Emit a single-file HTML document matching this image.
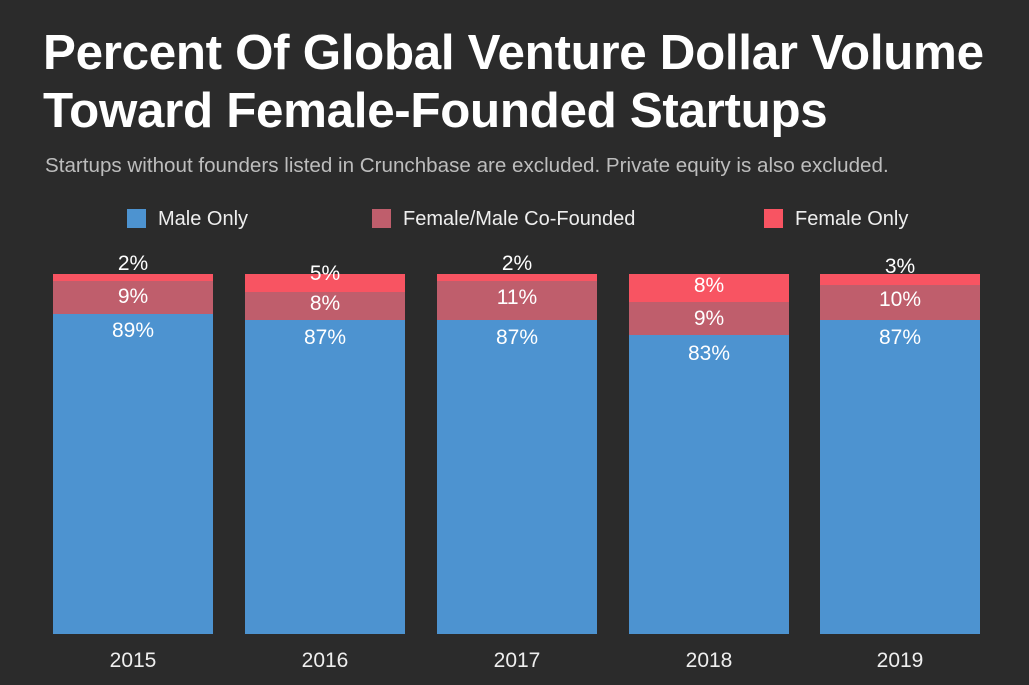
<!DOCTYPE html>
<html><head><style>
body{margin:0;width:1029px;height:685px;background:#2b2b2b;overflow:hidden;font-family:"Liberation Sans",sans-serif;position:relative}
.t{position:absolute;left:43px;top:24px;color:#fff;font-size:49.3px;font-weight:bold;line-height:58px;letter-spacing:-0.3px;white-space:nowrap}
.s{position:absolute;left:45px;top:154px;color:#bdbdbd;font-size:20.6px;white-space:nowrap}
.lg{position:absolute;top:208px;color:#eee;font-size:20px;line-height:22px;white-space:nowrap}
.lg i{display:inline-block;width:19px;height:19px;vertical-align:-3px;margin-right:12px}
.b{position:absolute;width:160px}
.l{position:absolute;width:160px;text-align:center;color:#fff;font-size:21px;line-height:20px}
.x{position:absolute;width:160px;text-align:center;color:#eee;font-size:21px;top:649px}
</style></head><body>
<div class="t">Percent Of Global Venture Dollar Volume<br>Toward Female-Founded Startups</div>
<div class="s">Startups without founders listed in Crunchbase are excluded. Private equity is also excluded.</div>
<div class="lg" style="left:127px"><i style="background:#4d93d0"></i>Male Only</div>
<div class="lg" style="left:372px"><i style="background:#bf5e6c"></i>Female/Male Co-Founded</div>
<div class="lg" style="left:764px"><i style="background:#f85462"></i>Female Only</div>

<div class="b" style="left:53px;top:274px;height:7px;background:#f85462"></div>
<div class="b" style="left:53px;top:281px;height:33px;background:#bf5e6c"></div>
<div class="b" style="left:53px;top:314px;height:320px;background:#4d93d0"></div>
<div class="l" style="left:53px;top:254px">2%</div>
<div class="l" style="left:53px;top:287px">9%</div>
<div class="l" style="left:53px;top:321px">89%</div>
<div class="x" style="left:53px">2015</div>

<div class="b" style="left:245px;top:274px;height:18px;background:#f85462"></div>
<div class="b" style="left:245px;top:292px;height:28px;background:#bf5e6c"></div>
<div class="b" style="left:245px;top:320px;height:314px;background:#4d93d0"></div>
<div class="l" style="left:245px;top:264px">5%</div>
<div class="l" style="left:245px;top:294px">8%</div>
<div class="l" style="left:245px;top:328px">87%</div>
<div class="x" style="left:245px">2016</div>

<div class="b" style="left:437px;top:274px;height:7px;background:#f85462"></div>
<div class="b" style="left:437px;top:281px;height:39px;background:#bf5e6c"></div>
<div class="b" style="left:437px;top:320px;height:314px;background:#4d93d0"></div>
<div class="l" style="left:437px;top:254px">2%</div>
<div class="l" style="left:437px;top:288px">11%</div>
<div class="l" style="left:437px;top:328px">87%</div>
<div class="x" style="left:437px">2017</div>

<div class="b" style="left:629px;top:274px;height:28px;background:#f85462"></div>
<div class="b" style="left:629px;top:302px;height:33px;background:#bf5e6c"></div>
<div class="b" style="left:629px;top:335px;height:299px;background:#4d93d0"></div>
<div class="l" style="left:629px;top:276px">8%</div>
<div class="l" style="left:629px;top:309px">9%</div>
<div class="l" style="left:629px;top:344px">83%</div>
<div class="x" style="left:629px">2018</div>

<div class="b" style="left:820px;top:274px;height:11px;background:#f85462"></div>
<div class="b" style="left:820px;top:285px;height:35px;background:#bf5e6c"></div>
<div class="b" style="left:820px;top:320px;height:314px;background:#4d93d0"></div>
<div class="l" style="left:820px;top:257px">3%</div>
<div class="l" style="left:820px;top:290px">10%</div>
<div class="l" style="left:820px;top:328px">87%</div>
<div class="x" style="left:820px">2019</div>
</body></html>
